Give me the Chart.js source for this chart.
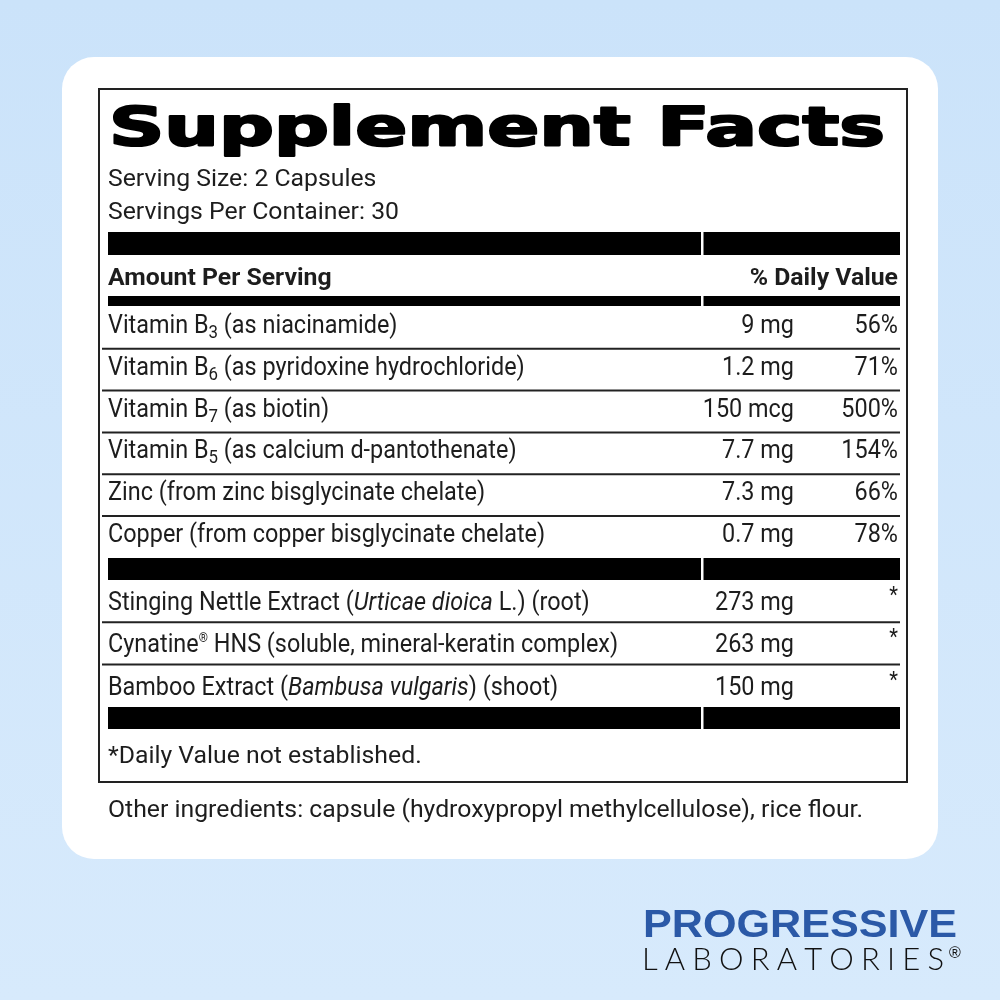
<!DOCTYPE html>
<html>
<head>
<meta charset="utf-8">
<script src="https://cdn.jsdelivr.net/npm/chart.js@4.4.0/dist/chart.umd.min.js"></script>
<style>
  html, body { margin: 0; padding: 0; background: #cfe5fb; }
  canvas { display: block; }
</style>
</head>
<body>
<canvas id="label" width="1000" height="1000"></canvas>
<script>
// label texts
const title = 'Supplement Facts';
const servingLines = ['Serving Size: 2 Capsules', 'Servings Per Container: 30'];
const headerLeft = 'Amount Per Serving';
const headerRight = '% Daily Value';

// markup: _3 = subscript digit, ^® = superscript, /text/ = italic
const vitaminNames = [
  'Vitamin B_3 (as niacinamide)',
  'Vitamin B_6 (as pyridoxine hydrochloride)',
  'Vitamin B_7 (as biotin)',
  'Vitamin B_5 (as calcium d-pantothenate)',
  'Zinc (from zinc bisglycinate chelate)',
  'Copper (from copper bisglycinate chelate)'
];
const vitaminAmounts = ['9 mg', '1.2 mg', '150 mcg', '7.7 mg', '7.3 mg', '0.7 mg'];
const vitaminDV = ['56%', '71%', '500%', '154%', '66%', '78%'];

const otherNames = [
  'Stinging Nettle Extract (/Urticae dioica/ L.) (root)',
  'Cynatine^® HNS (soluble, mineral-keratin complex)',
  'Bamboo Extract (/Bambusa vulgaris/) (shoot)'
];
const otherAmounts = ['273 mg', '263 mg', '150 mg'];
const otherDV = ['*', '*', '*'];

const footnote = '*Daily Value not established.';
const otherIngredients = 'Other ingredients: capsule (hydroxypropyl methylcellulose), rice flour.';
const brand = 'PROGRESSIVE';
const brandSub = 'LABORATORIES';

// layout (label units, mapped through the hidden linear scales)
const L = {
  left: 108, right: 899, amountRight: 794, dvRight: 898, divider: 702,
  titleBase: 145, servingBase: [186, 219], headerBase: 285,
  rowStart1: 307, rowStep1: 41.8, rowStart2: 580, rowStep2: 42.3,
  footBase: 763, otherBase: 817,
  thickBars: [[232, 23], [296, 10], [558, 22], [707, 22]],
  size: 24.5, rowSize: 25.5
};
const INK = '#1d1d1d';
const BODY = 'Roboto, "Liberation Sans", sans-serif';

function parseRuns(str) {
  return str.split(/(_\d|\^®|\/[^/]+\/)/).filter(s => s.length).map(s => {
    if (s[0] === '_') return { t: s.slice(1), kind: 'sub' };
    if (s[0] === '^') return { t: s.slice(1), kind: 'sup' };
    if (s[0] === '/') return { t: s.slice(1, -1), kind: 'it' };
    return { t: s, kind: 'n' };
  });
}

const labelPlugin = {
  id: 'labelPlugin',
  beforeDraw(chart) {
    const ctx = chart.ctx;
    const xs = chart.scales.x, ys = chart.scales.y;
    const X = v => xs.getPixelForValue(v);
    const Y = v => ys.getPixelForValue(v);

    // page background
    const g = ctx.createLinearGradient(0, 0, 0, 1000);
    g.addColorStop(0, '#cbe3fa');
    g.addColorStop(1, '#d7eafc');
    ctx.fillStyle = g;
    ctx.fillRect(0, 0, chart.width, chart.height);

    // white card
    ctx.fillStyle = '#ffffff';
    ctx.beginPath();
    ctx.roundRect(X(62), Y(57), X(938) - X(62), Y(859) - Y(57), 32);
    ctx.fill();

    // outer box
    ctx.strokeStyle = '#222';
    ctx.lineWidth = 2;
    ctx.strokeRect(X(99), Y(89), X(907) - X(99), Y(782) - Y(89));

    // thick bars with divider gap
    L.thickBars.forEach(([top, h]) => {
      ctx.fillStyle = '#000';
      ctx.fillRect(X(L.left), Y(top), X(L.right + 1) - X(L.left), h);
      ctx.fillStyle = '#fff';
      ctx.fillRect(X(L.divider - 1), Y(top), 2.5, h);
    });

    // thin row lines
    ctx.strokeStyle = '#222';
    ctx.lineWidth = 2;
    const thin = [];
    for (let i = 1; i < vitaminNames.length; i++) thin.push(L.rowStart1 + i * L.rowStep1);
    for (let i = 1; i < otherNames.length; i++) thin.push(L.rowStart2 + i * L.rowStep2);
    thin.forEach(y => {
      ctx.beginPath();
      ctx.moveTo(X(102), Y(y));
      ctx.lineTo(X(L.right + 1), Y(y));
      ctx.stroke();
    });

    // condensing factor for body text; table rows are set taller and tighter
    ctx.font = `400 ${L.size}px ${BODY}`;
    const SX = 755 / ctx.measureText(otherIngredients).width;
    const SXR = SX * 0.945 * L.size / L.rowSize;

    function runs(str, x, y, weight, sx, size) {
      const fs = size || L.size;
      ctx.save();
      ctx.translate(X(x), Y(y));
      ctx.scale(sx || SX, 1);
      ctx.fillStyle = INK;
      ctx.textAlign = 'left';
      ctx.textBaseline = 'alphabetic';
      let cx = 0;
      parseRuns(str).forEach(r => {
        let dy = 0;
        if (r.kind === 'sub') { ctx.font = `${weight} ${fs * 0.72}px ${BODY}`; dy = 5; }
        else if (r.kind === 'sup') { ctx.font = `${weight} ${fs * 0.5}px ${BODY}`; dy = -10; }
        else if (r.kind === 'it') { ctx.font = `italic ${weight} ${fs}px ${BODY}`; }
        else { ctx.font = `${weight} ${fs}px ${BODY}`; }
        ctx.fillText(r.t, cx, dy);
        cx += ctx.measureText(r.t).width;
      });
      ctx.restore();
    }
    function rtext(str, x, y, weight, sx, size) {
      ctx.save();
      ctx.translate(X(x), Y(y));
      ctx.scale(sx || SX, 1);
      ctx.fillStyle = INK;
      ctx.textAlign = 'right';
      ctx.textBaseline = 'alphabetic';
      ctx.font = `${weight} ${size || L.size}px ${BODY}`;
      ctx.fillText(str, 0, 0);
      ctx.restore();
    }

    // title, stretched to its width and thickened
    ctx.save();
    ctx.font = `900 54px "DejaVu Sans", "Liberation Sans", sans-serif`;
    const tw = ctx.measureText(title).width;
    ctx.translate(X(L.left + 1), Y(L.titleBase));
    ctx.scale(776 / tw, 1);
    ctx.fillStyle = '#000';
    ctx.strokeStyle = '#000';
    ctx.lineWidth = 2.2;
    ctx.lineJoin = 'round';
    ctx.textBaseline = 'alphabetic';
    ctx.fillText(title, 0, 0);
    ctx.strokeText(title, 0, 0);
    ctx.restore();

    servingLines.forEach((s, i) => runs(s, L.left, L.servingBase[i], 400));
    runs(headerLeft, L.left, L.headerBase, 700);
    rtext(headerRight, L.dvRight, L.headerBase, 700);

    vitaminNames.forEach((n, i) => {
      const base = L.rowStart1 + i * L.rowStep1 + 26;
      runs(n, L.left, base, 400, SXR, L.rowSize);
      rtext(vitaminAmounts[i], L.amountRight, base, 400, SXR, L.rowSize);
      rtext(vitaminDV[i], L.dvRight, base, 400, SXR, L.rowSize);
    });
    otherNames.forEach((n, i) => {
      const base = L.rowStart2 + i * L.rowStep2 + 30;
      runs(n, L.left, base, 400, SXR, L.rowSize);
      rtext(otherAmounts[i], L.amountRight, base, 400, SXR, L.rowSize);
      rtext(otherDV[i], L.dvRight, base - 8, 400, SXR, 22);
    });

    runs(footnote, L.left, L.footBase, 400);
    runs(otherIngredients, L.left, L.otherBase, 400);

    // brand block
    ctx.save();
    ctx.font = `700 39px "Liberation Sans", Arial, sans-serif`;
    const bw = ctx.measureText(brand).width;
    ctx.translate(X(643), Y(937));
    ctx.scale(314 / bw, 1);
    ctx.fillStyle = '#2b59a7';
    ctx.fillText(brand, 0, 0);
    ctx.restore();

    // letter-spaced second line: spread the free space evenly between glyphs
    ctx.save();
    ctx.fillStyle = '#111';
    ctx.font = `300 31px Lato, "DejaVu Sans", sans-serif`;
    const chars = brandSub.split('');
    const widths = chars.map(c => ctx.measureText(c).width);
    const total = widths.reduce((a, b) => a + b, 0);
    const gap = (944 - 642 - total) / (chars.length - 1);
    let cx = 642;
    chars.forEach((c, i) => {
      ctx.fillText(c, X(cx), Y(970));
      cx += widths[i] + gap;
    });
    ctx.font = `400 16px "Liberation Sans", sans-serif`;
    ctx.fillText('®', X(949), Y(958));
    ctx.restore();
  }
};

new Chart(document.getElementById('label'), {
  type: 'scatter',
  data: { datasets: [] },
  options: {
    responsive: false,
    animation: false,
    devicePixelRatio: 1,
    layout: { padding: 0 },
    plugins: { legend: { display: false }, tooltip: { enabled: false } },
    scales: {
      x: { type: 'linear', min: 0, max: 1000, display: false },
      y: { type: 'linear', min: 0, max: 1000, reverse: true, display: false }
    }
  },
  plugins: [labelPlugin]
});
</script>
</body>
</html>
